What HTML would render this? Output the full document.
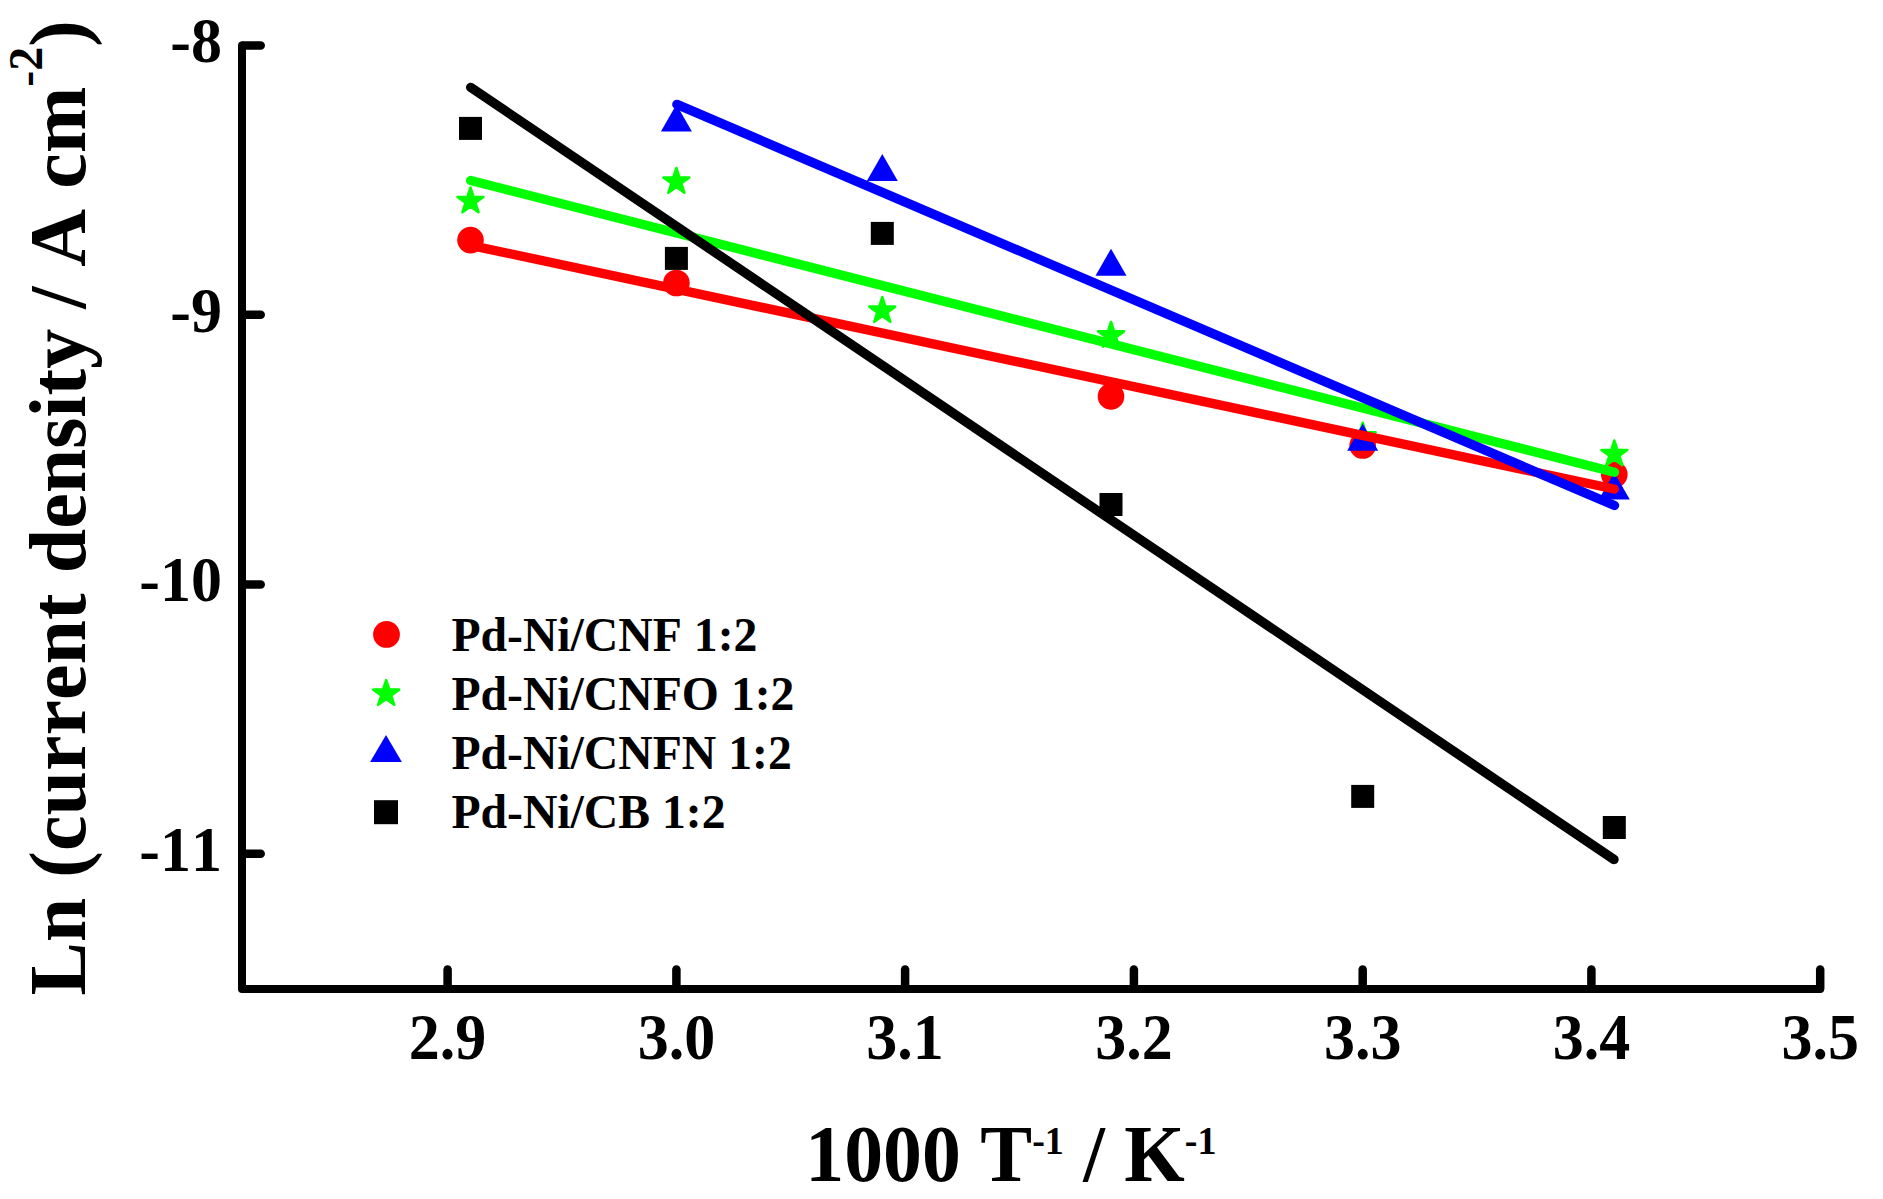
<!DOCTYPE html>
<html lang="en"><head><meta charset="utf-8"><title>Arrhenius plot</title>
<style>html,body{margin:0;padding:0;background:#fff}body{width:1883px;height:1199px;overflow:hidden}svg{display:block}text{font-family:"Liberation Serif","Times New Roman",serif;font-weight:bold;fill:#000;font-kerning:none;font-variant-ligatures:none}</style>
</head><body>
<svg width="1883" height="1199" viewBox="0 0 1883 1199">
<rect width="1883" height="1199" fill="#fff"/>
<g id="markers">
<circle cx="470.5" cy="240.1" r="13.3" fill="#f00"/>
<circle cx="676.4" cy="283.0" r="13.3" fill="#f00"/>
<circle cx="1111.0" cy="396.4" r="13.3" fill="#f00"/>
<circle cx="1362.7" cy="445.5" r="13.3" fill="#f00"/>
<circle cx="1614.3" cy="474.5" r="13.3" fill="#f00"/>
<polygon points="470.5,187.6 473.5,197.0 483.4,197.0 475.4,202.8 478.5,212.2 470.5,206.4 462.5,212.2 465.5,202.8 457.5,197.0 467.4,197.0" fill="#0f0" stroke="#0f0" stroke-width="2.6" stroke-linejoin="round"/>
<polygon points="676.4,168.1 679.4,177.5 689.3,177.5 681.3,183.3 684.4,192.7 676.4,186.9 668.4,192.7 671.4,183.3 663.4,177.5 673.3,177.5" fill="#0f0" stroke="#0f0" stroke-width="2.6" stroke-linejoin="round"/>
<polygon points="882.3,297.2 885.3,306.6 895.2,306.6 887.2,312.4 890.3,321.8 882.3,316.0 874.3,321.8 877.3,312.4 869.3,306.6 879.2,306.6" fill="#0f0" stroke="#0f0" stroke-width="2.6" stroke-linejoin="round"/>
<polygon points="1111.0,322.0 1114.1,331.4 1124.0,331.4 1116.0,337.2 1119.0,346.6 1111.0,340.8 1103.0,346.6 1106.1,337.2 1098.1,331.4 1108.0,331.4" fill="#0f0" stroke="#0f0" stroke-width="2.6" stroke-linejoin="round"/>
<polygon points="1362.7,422.8 1365.7,432.2 1375.6,432.2 1367.6,438.0 1370.7,447.4 1362.7,441.6 1354.7,447.4 1357.7,438.0 1349.7,432.2 1359.6,432.2" fill="#0f0" stroke="#0f0" stroke-width="2.6" stroke-linejoin="round"/>
<polygon points="1614.3,440.6 1617.4,450.0 1627.3,450.0 1619.3,455.8 1622.3,465.2 1614.3,459.4 1606.3,465.2 1609.4,455.8 1601.4,450.0 1611.3,450.0" fill="#0f0" stroke="#0f0" stroke-width="2.6" stroke-linejoin="round"/>
<polygon points="660.9,131.5 691.9,131.5 676.4,104.5" fill="#00f"/>
<polygon points="866.8,181.0 897.8,181.0 882.3,154.0" fill="#00f"/>
<polygon points="1095.5,275.7 1126.5,275.7 1111.0,248.7" fill="#00f"/>
<polygon points="1347.2,450.7 1378.2,450.7 1362.7,423.7" fill="#00f"/>
<polygon points="1598.8,499.6 1629.8,499.6 1614.3,472.6" fill="#00f"/>
<rect x="459.0" y="116.9" width="23" height="23" fill="#000"/>
<rect x="664.9" y="246.9" width="23" height="23" fill="#000"/>
<rect x="870.8" y="221.9" width="23" height="23" fill="#000"/>
<rect x="1099.5" y="493.0" width="23" height="23" fill="#000"/>
<rect x="1351.2" y="784.9" width="23" height="23" fill="#000"/>
<rect x="1602.8" y="816.0" width="23" height="23" fill="#000"/>
</g>
<g id="fits" stroke-width="9.4" stroke-linecap="round" fill="none">
<line x1="470.5" y1="245.3" x2="1614.2" y2="489" stroke="#f00"/>
<line x1="470.7" y1="180.5" x2="1614.5" y2="472.2" stroke="#0f0"/>
<line x1="676.9" y1="104.4" x2="1614.5" y2="505.5" stroke="#00f"/>
<line x1="470.7" y1="87.4" x2="1614" y2="859.5" stroke="#000"/>
</g>
<g id="axes" stroke="#000" stroke-linecap="round" fill="none">
<polyline points="242,45.4 242,989 1820.2,989" stroke-width="8" stroke-linejoin="round"/>
<line x1="447.6" y1="988" x2="447.6" y2="969.5" stroke-width="8.5"/>
<line x1="676.4" y1="988" x2="676.4" y2="969.5" stroke-width="8.5"/>
<line x1="905.1" y1="988" x2="905.1" y2="969.5" stroke-width="8.5"/>
<line x1="1133.9" y1="988" x2="1133.9" y2="969.5" stroke-width="8.5"/>
<line x1="1362.7" y1="988" x2="1362.7" y2="969.5" stroke-width="8.5"/>
<line x1="1591.4" y1="988" x2="1591.4" y2="969.5" stroke-width="8.5"/>
<line x1="1820.2" y1="988" x2="1820.2" y2="969.5" stroke-width="8.5"/>
<line x1="243" y1="45.4" x2="260.7" y2="45.4" stroke-width="8.5"/>
<line x1="243" y1="314.8" x2="260.7" y2="314.8" stroke-width="8.5"/>
<line x1="243" y1="584.4" x2="260.7" y2="584.4" stroke-width="8.5"/>
<line x1="243" y1="853.7" x2="260.7" y2="853.7" stroke-width="8.5"/>
</g>
<g id="ticklabels" font-size="62">
<text transform="translate(447.6,1058.5) scale(1,1.04)" text-anchor="middle">2.9</text>
<text transform="translate(676.4,1058.5) scale(1,1.04)" text-anchor="middle">3.0</text>
<text transform="translate(905.1,1058.5) scale(1,1.04)" text-anchor="middle">3.1</text>
<text transform="translate(1133.9,1058.5) scale(1,1.04)" text-anchor="middle">3.2</text>
<text transform="translate(1362.7,1058.5) scale(1,1.04)" text-anchor="middle">3.3</text>
<text transform="translate(1591.4,1058.5) scale(1,1.04)" text-anchor="middle">3.4</text>
<text transform="translate(1820.2,1058.5) scale(1,1.04)" text-anchor="middle">3.5</text>
<text transform="translate(222,62.4) scale(1,1.03)" text-anchor="end">-8</text>
<text transform="translate(222,331.8) scale(1,1.03)" text-anchor="end">-9</text>
<text transform="translate(222,601.4) scale(1,1.03)" text-anchor="end">-10</text>
<text transform="translate(222,870.7) scale(1,1.03)" text-anchor="end">-11</text>
</g>
<text id="xtitle" transform="translate(805.3,1181) scale(1,1.045)" font-size="77.8">1000 T<tspan font-size="38" dy="-26">-1</tspan><tspan dy="26"> / K</tspan><tspan font-size="38" dy="-26">-1</tspan></text>
<text id="ytitle" transform="translate(85,995.5) rotate(-90)" font-size="80">Ln (current density / A cm<tspan font-size="48" dy="-43.4">-2</tspan><tspan dy="43.4">)</tspan></text>
<g id="legend" font-size="47.7">
<circle cx="386.5" cy="634.4" r="13.4" fill="#f00"/>
<polygon points="386.2,680.2 389.3,689.6 399.1,689.6 391.1,695.4 394.2,704.8 386.2,699.0 378.2,704.8 381.3,695.4 373.3,689.6 383.1,689.6" fill="#0f0" stroke="#0f0" stroke-width="2.6" stroke-linejoin="round"/>
<polygon points="370.1,761.9 401.9,761.9 386.0,735.1" fill="#00f"/>
<rect x="374" y="800.2" width="24" height="24" fill="#000"/>
<text x="451.4" y="651">Pd-Ni/CNF 1:2</text>
<text x="451.4" y="709.6">Pd-Ni/CNFO 1:2</text>
<text x="451.4" y="768.7">Pd-Ni/CNFN 1:2</text>
<text x="451.4" y="828.1">Pd-Ni/CB 1:2</text>
</g>
</svg></body></html>
